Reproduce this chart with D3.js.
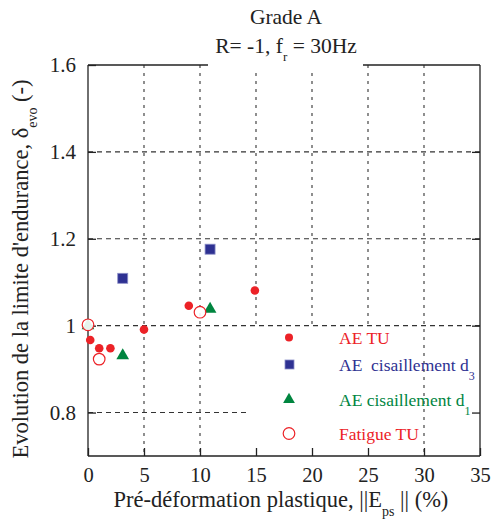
<!DOCTYPE html>
<html><head><meta charset="utf-8">
<script src="https://cdn.jsdelivr.net/npm/d3@7"></script>
<style>body{margin:0;background:#fff}svg{display:block}text{font-family:"Liberation Serif","DejaVu Serif",serif}</style>
</head><body><svg id="c" width="492" height="520"></svg>
<script>
const xTicks = [0,5,10,15,20,25,30,35];
const yTicks = [0.8,1.0,1.2,1.4,1.6];
const yTickLabels = ["0.8","1","1.2","1.4","1.6"];
const aeTU_x = [0.2,1.0,2.0,5.0,9.0,14.9];
const aeTU_y = [0.967,0.948,0.948,0.991,1.046,1.081];
const aeD3_x = [3.1,10.9];
const aeD3_y = [1.109,1.176];
const aeD1_x = [0.0,3.1,10.9];
const aeD1_y = [1.0,0.931,1.038];
const fatTU_x = [0.0,1.0,10.0];
const fatTU_y = [1.002,0.923,1.031];
const legendLabels = ["AE TU","AE  cisaillement d","AE cisaillement d","Fatigue TU"];
const legendSubs = ["","3","1",""];
const colRed="#ec2227", colBlue="#2e3192", colGreen="#00853f";

const svg=d3.select("#c");
const L=88,R=480,T=65,B=456;
const x=d3.scaleLinear().domain([0,35]).range([L,R]);
const y=d3.scaleLinear().domain([0.7,1.6]).range([B,T]);

// grid
const g=svg.append("g").attr("stroke","#333").attr("stroke-width",1.1).attr("stroke-dasharray","5,4");
[0.8,1.0,1.2,1.4].forEach(v=>{
  g.append("line").attr("x1",L).attr("x2",v===0.8?x(14.3):R).attr("y1",y(v)).attr("y2",y(v));
});
xTicks.slice(1,-1).forEach(v=>{
  g.append("line").attr("x1",x(v)).attr("x2",x(v)).attr("y1",T).attr("y2",B).attr("stroke-dasharray","3,5");
});
// masks (title and legend backgrounds)
svg.append("rect").attr("x",208).attr("y",0).attr("width",155).attr("height",72).attr("fill","#fff");
svg.append("rect").attr("x",x(14.6)).attr("y",y(0.997)).attr("width",x(27.5)-x(14.6)).attr("height",452-y(0.997)).attr("fill","#fff");

// frame
const fr=svg.append("g").attr("stroke","#222").attr("stroke-width",1.3).attr("fill","none");
fr.append("line").attr("x1",L).attr("x2",L).attr("y1",T).attr("y2",B);
fr.append("line").attr("x1",R).attr("x2",R).attr("y1",T).attr("y2",B);
fr.append("line").attr("x1",L).attr("x2",R).attr("y1",B).attr("y2",B);
fr.append("line").attr("x1",L).attr("x2",208).attr("y1",T).attr("y2",T);
fr.append("line").attr("x1",363).attr("x2",R).attr("y1",T).attr("y2",T);

// axes
const ax=d3.axisBottom(x).tickValues(xTicks).tickSize(-8).tickPadding(11).tickFormat(d3.format("d"));
const xg=svg.append("g").attr("transform",`translate(0,${B})`).call(ax);
xg.select(".domain").remove();
xg.selectAll("line").attr("stroke","#222").attr("stroke-width",1.3);
xg.selectAll("text").attr("font-size",20.5).attr("fill","#222").attr("font-family","Liberation Serif");
const ay=d3.axisLeft(y).tickValues(yTicks).tickSize(-8).tickPadding(12).tickFormat((d,i)=>yTickLabels[i]);
const yg=svg.append("g").attr("transform",`translate(${L},0)`).call(ay);
yg.select(".domain").remove();
yg.selectAll("line").attr("stroke","#222").attr("stroke-width",1.3);
yg.selectAll("text").attr("font-size",21).attr("fill","#222").attr("font-family","Liberation Serif");
const ayr=d3.axisRight(y).tickValues(yTicks.slice(0,-1)).tickSize(-8).tickFormat("");
const yr=svg.append("g").attr("transform",`translate(${R},0)`).call(ayr);
yr.select(".domain").remove();
yr.selectAll("line").attr("stroke","#222").attr("stroke-width",1.3);

// data
svg.append("g").selectAll("path").data(aeD1_x.map((d,i)=>[d,aeD1_y[i]])).join("path")
  .attr("d",d3.symbol(d3.symbolTriangle,70)).attr("fill",colGreen)
  .attr("transform",d=>`translate(${x(d[0])},${y(d[1])})`);
svg.append("g").selectAll("rect").data(aeD3_x.map((d,i)=>[d,aeD3_y[i]])).join("rect")
  .attr("x",d=>x(d[0])-5).attr("y",d=>y(d[1])-5).attr("width",10).attr("height",10)
  .attr("fill",colBlue).attr("stroke","#8c8fc8").attr("stroke-width",0.8);
svg.append("g").selectAll("circle").data(aeTU_x.map((d,i)=>[d,aeTU_y[i]])).join("circle")
  .attr("cx",d=>x(d[0])).attr("cy",d=>y(d[1])).attr("r",4.3).attr("fill",colRed);
svg.append("g").selectAll("circle").data(fatTU_x.map((d,i)=>[d,fatTU_y[i]])).join("circle")
  .attr("cx",d=>x(d[0])).attr("cy",d=>y(d[1])).attr("r",5.8).attr("fill","#fff").attr("fill-opacity",0.9)
  .attr("stroke",colRed).attr("stroke-width",1.2);

// legend
const lc=[colRed,colBlue,colGreen,colRed];
const ly=[337.5,364.5,399.5,433.5];
const lg=svg.append("g");
lg.append("circle").attr("cx",289).attr("cy",ly[0]).attr("r",4).attr("fill",colRed);
lg.append("rect").attr("x",285).attr("y",ly[1]-4.5).attr("width",9).attr("height",9).attr("fill",colBlue).attr("stroke","#8c8fc8").attr("stroke-width",0.8);
lg.append("path").attr("d",d3.symbol(d3.symbolTriangle,60)).attr("fill",colGreen).attr("transform",`translate(289,${ly[2]})`);
lg.append("circle").attr("cx",289).attr("cy",ly[3]).attr("r",5.8).attr("fill","#fff").attr("stroke",colRed).attr("stroke-width",1.2);
legendLabels.forEach((t,i)=>{
  const tx=lg.append("text").attr("x",339).attr("y",ly[i]+6).attr("font-size",17.5).attr("fill",lc[i]).attr("xml:space","preserve").style("white-space","pre");
  tx.append("tspan").text(t);
  if(legendSubs[i]) tx.append("tspan").attr("dy",9).attr("font-size",12).text(legendSubs[i]);
});

// titles
svg.append("text").attr("x",286).attr("y",24).attr("text-anchor","middle").attr("font-size",21.5).attr("fill","#222").text("Grade A");
const t2=svg.append("text").attr("x",286).attr("y",53).attr("text-anchor","middle").attr("font-size",21.5).attr("fill","#222");
t2.append("tspan").text("R= -1, f");
t2.append("tspan").attr("dy",8).attr("font-size",13).text("r");
t2.append("tspan").attr("dy",-8).text(" = 30Hz");

const xl=svg.append("text").attr("x",281).attr("y",507).attr("text-anchor","middle").attr("font-size",22.5).attr("fill","#222");
xl.append("tspan").text("Pré-déformation plastique, ||E");
xl.append("tspan").attr("dy",9).attr("font-size",14).text("ps");
xl.append("tspan").attr("dy",-9).text(" || (%)");

const yl=svg.append("text").attr("transform","translate(28,269) rotate(-90)").attr("text-anchor","middle").attr("font-size",22.5).attr("fill","#222");
yl.append("tspan").text("Evolution de la limite d'endurance, δ");
yl.append("tspan").attr("dy",9).attr("font-size",14).text("evo");
yl.append("tspan").attr("dy",-9).text(" (-)");
</script></body></html>
